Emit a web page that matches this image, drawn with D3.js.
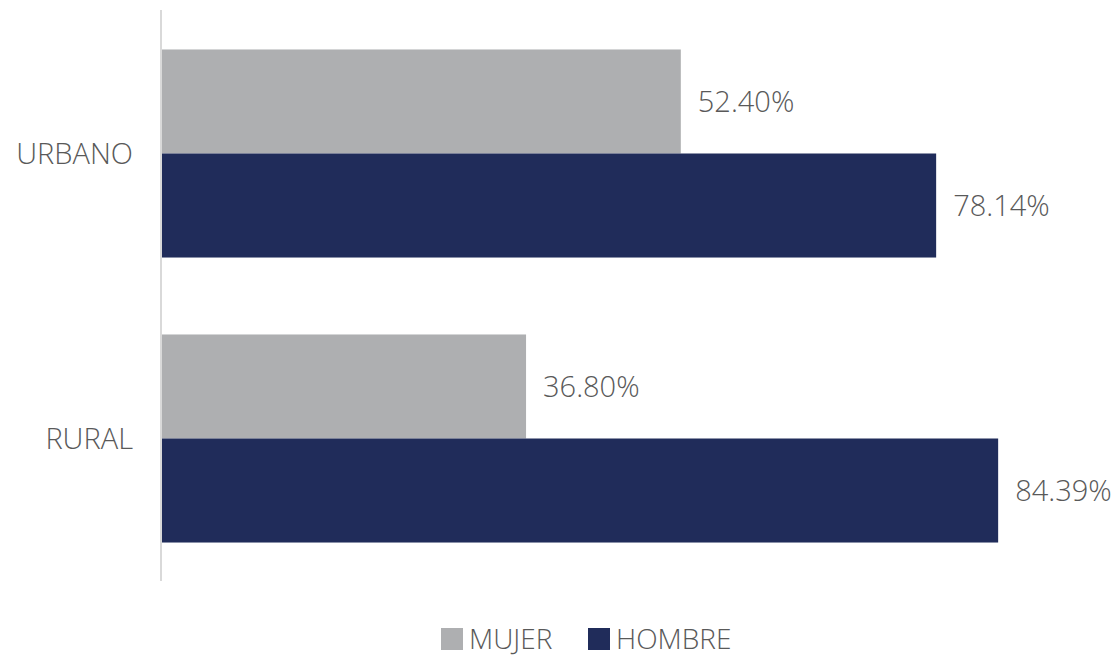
<!DOCTYPE html>
<html><head><meta charset="utf-8">
<script src="https://cdn.jsdelivr.net/npm/d3@7"></script>
<style>
body{margin:0;background:#fff;}
svg{display:block;font-family:"Open Sans",sans-serif;font-weight:300;}
</style></head>
<body><svg id="c" width="1115" height="657"></svg>
<script>
const categories = ["URBANO", "RURAL"];
const seriesNames = ["MUJER", "HOMBRE"];
const mujer = [0.5240, 0.3680];
const hombre = [0.7814, 0.8439];
const valueLabels = [["52.40%", "78.14%"], ["36.80%", "84.39%"]];
const colors = ["#aeafb1", "#202c5a"];

const svg = d3.select("#c");
const textColor = "#595959";
const fs = 29;

const x = d3.scaleLinear().domain([0, 1]).range([161, 1153]);
const y0 = d3.scaleBand().domain(categories).range([11, 581]).paddingInner(0.27).paddingOuter(0.135);
const y1 = d3.scaleBand().domain(seriesNames).range([0, y0.bandwidth()]);

const data = categories.map((c, i) => ({cat: c, vals: [mujer[i], hombre[i]]}));

const g = svg.selectAll("g.grp").data(data).join("g")
  .attr("transform", d => `translate(0,${y0(d.cat)})`);

g.selectAll("rect").data((d, i) => d.vals.map((v, j) => ({v, s: seriesNames[j], j, i})))
  .join("rect")
  .attr("x", x(0))
  .attr("y", d => y1(d.s))
  .attr("width", d => x(d.v) - x(0))
  .attr("height", y1.bandwidth())
  .attr("fill", d => colors[d.j]);

g.selectAll("text.val").data((d, i) => d.vals.map((v, j) => ({v, s: seriesNames[j], j, i})))
  .join("text").attr("class", "val")
  .attr("x", d => x(d.v) + 17)
  .attr("y", d => y1(d.s) + y1.bandwidth() / 2 + 10.5)
  .attr("fill", textColor).attr("font-size", fs)
  .text(d => valueLabels[d.i][d.j]);

// axis
const yAxis = d3.axisLeft(y0).tickSize(0).tickPadding(28);
const ax = svg.append("g").attr("transform", "translate(161,0)").call(yAxis);
ax.select(".domain").attr("stroke", "#d9d9d9").attr("stroke-width", 2).attr("d", "M0,10V581");
ax.selectAll(".tick text").attr("fill", textColor).attr("font-size", fs)
  .attr("font-family", "Open Sans, sans-serif").attr("font-weight", 300)
  .attr("dy", "0.36em");

// legend
const legX = [441, 588];
const leg = svg.append("g");
seriesNames.forEach((s, j) => {
  leg.append("rect").attr("x", legX[j]).attr("y", 628).attr("width", 22).attr("height", 22).attr("fill", colors[j]);
  leg.append("text").attr("x", legX[j] + 28).attr("y", 649).attr("fill", textColor).attr("font-size", 28).text(s);
});
</script></body></html>
